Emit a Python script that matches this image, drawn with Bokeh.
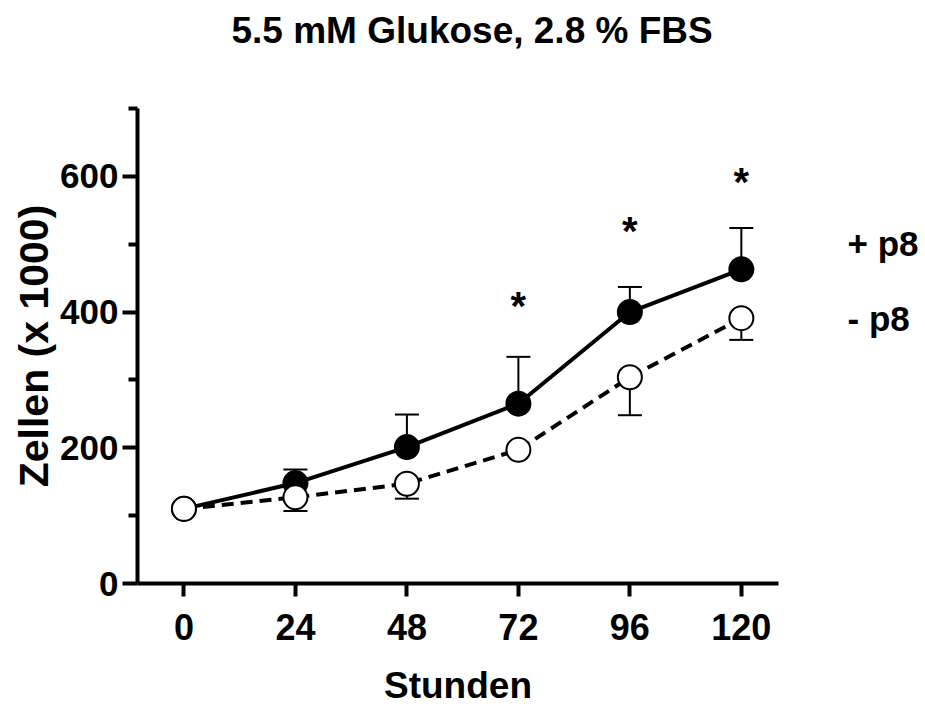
from bokeh.plotting import figure
from bokeh.models import Range1d, FixedTicker, Title
from bokeh.layouts import row
from bokeh.core.properties import value
from bokeh.embed import file_html
from bokeh.resources import INLINE

# ---- data ----
hours = [0, 24, 48, 72, 96, 120]
plus_p8 = [110, 148, 201, 265, 400, 463]
plus_p8_sem = [0, 20, 48, 69, 37, 61]
minus_p8 = [110, 127, 147, 197, 304, 391]
minus_p8_sem = [0, 20, 22, 0, 56, 32]
star_hours = [72, 96, 120]
star_y = [418, 529, 600]
y_ticks = [0, 200, 400, 600]
y_minor = [100, 300, 500, 700]
x_ticks = [0, 24, 48, 72, 96, 120]
legend_labels = ["+ p8", "- p8"]
legend_y = [501, 390]

FONT = "Liberation Sans"
Y0, Y1 = 0, 700
H = 708

p = figure(width=790, height=H, output_backend="svg", toolbar_location=None,
           x_range=Range1d(-10, 128), y_range=Range1d(Y0, Y1), title_location=None,
           min_border_left=137, min_border_right=12, min_border_top=108,
           min_border_bottom=124)
p.outline_line_color = None
p.grid.visible = False
p.background_fill_color = "white"
p.border_fill_color = "white"

# spacer + title (stacked outward from the frame)
p.add_layout(Title(text=" ", text_font_size="1px", standoff=50), "above")
p.add_layout(Title(text="5.5 mM Glukose, 2.8 % FBS", text_font=FONT, text_font_style="bold",
                   text_font_size="37px", text_color="black", align="left", offset=94,
                   standoff=10), "above")

# axes
for ax in (p.xaxis[0], p.yaxis[0]):
    ax.axis_line_width = 4
    ax.axis_line_color = "black"
    ax.major_tick_line_width = 4
    ax.minor_tick_line_width = 4
    ax.major_tick_line_color = "black"
    ax.minor_tick_line_color = "black"
    ax.major_tick_in = 0
    ax.minor_tick_in = 0
    ax.major_label_text_font = FONT
    ax.major_label_text_font_style = "bold"
    ax.major_label_text_color = "black"
    ax.axis_label_text_font = FONT
    ax.axis_label_text_font_style = "bold"
    ax.axis_label_text_color = "black"

p.xaxis.ticker = FixedTicker(ticks=x_ticks)
p.xaxis.major_tick_out = 13
p.xaxis.minor_tick_out = 0
p.xaxis.major_label_text_font_size = "36px"
p.xaxis.major_label_standoff = 17
p.xaxis.axis_label = "Stunden"
p.xaxis.axis_label_text_font_size = "37px"
p.xaxis.axis_label_standoff = 22

p.yaxis.ticker = FixedTicker(ticks=y_ticks, minor_ticks=y_minor)
p.yaxis.major_tick_out = 15
p.yaxis.minor_tick_out = 9
p.yaxis.major_label_text_font_size = "35px"
p.yaxis.major_label_standoff = 4
p.yaxis.axis_label = "Zellen (x 1000)"
p.yaxis.axis_label_text_font_size = "41px"
p.yaxis.axis_label_standoff = 0

# error bars
plus_top = [m + e for m, e in zip(plus_p8, plus_p8_sem)]
minus_bot = [m - e for m, e in zip(minus_p8, minus_p8_sem)]
p.segment(x0=hours, y0=plus_p8, x1=hours, y1=plus_top, line_width=2, line_color="black")
p.scatter(x=hours, y=plus_top, marker="dash", size=24, line_width=2, line_color="black")
p.segment(x0=hours, y0=minus_p8, x1=hours, y1=minus_bot, line_width=2, line_color="black")
p.scatter(x=hours, y=minus_bot, marker="dash", size=24, line_width=2, line_color="black")

# lines
p.line(hours, plus_p8, line_width=4, line_color="black")
p.line(hours, minus_p8, line_width=4, line_color="black", line_dash="12 7")

# markers
p.scatter(hours, plus_p8, size=24, fill_color="black", line_color="black", line_width=2)
p.scatter(hours, minus_p8, size=24, fill_color="white", line_color="black", line_width=2)

# significance stars
p.text(x=star_hours, y=star_y, text=["*"] * len(star_hours), text_font=value(FONT),
       text_font_style="bold", text_font_size="40px", text_align="center",
       text_baseline="middle", y_offset=6, text_color="black")

# text-only legend panel at the right, sharing the vertical scale
q = figure(width=135, height=H, output_backend="svg", toolbar_location=None,
           x_range=Range1d(0, 135), y_range=Range1d(Y0, Y1),
           x_axis_location=None, y_axis_location=None, title_location=None,
           min_border_left=0, min_border_right=0, min_border_top=108,
           min_border_bottom=124)
q.outline_line_color = None
q.grid.visible = False
q.text(x=[57] * len(legend_labels), y=legend_y, text=legend_labels, text_font=value(FONT),
       text_font_style="bold", text_font_size="35px", text_align="left",
       text_baseline="middle", text_color="black")

open("out.html", "w").write(file_html(row(p, q), INLINE))
